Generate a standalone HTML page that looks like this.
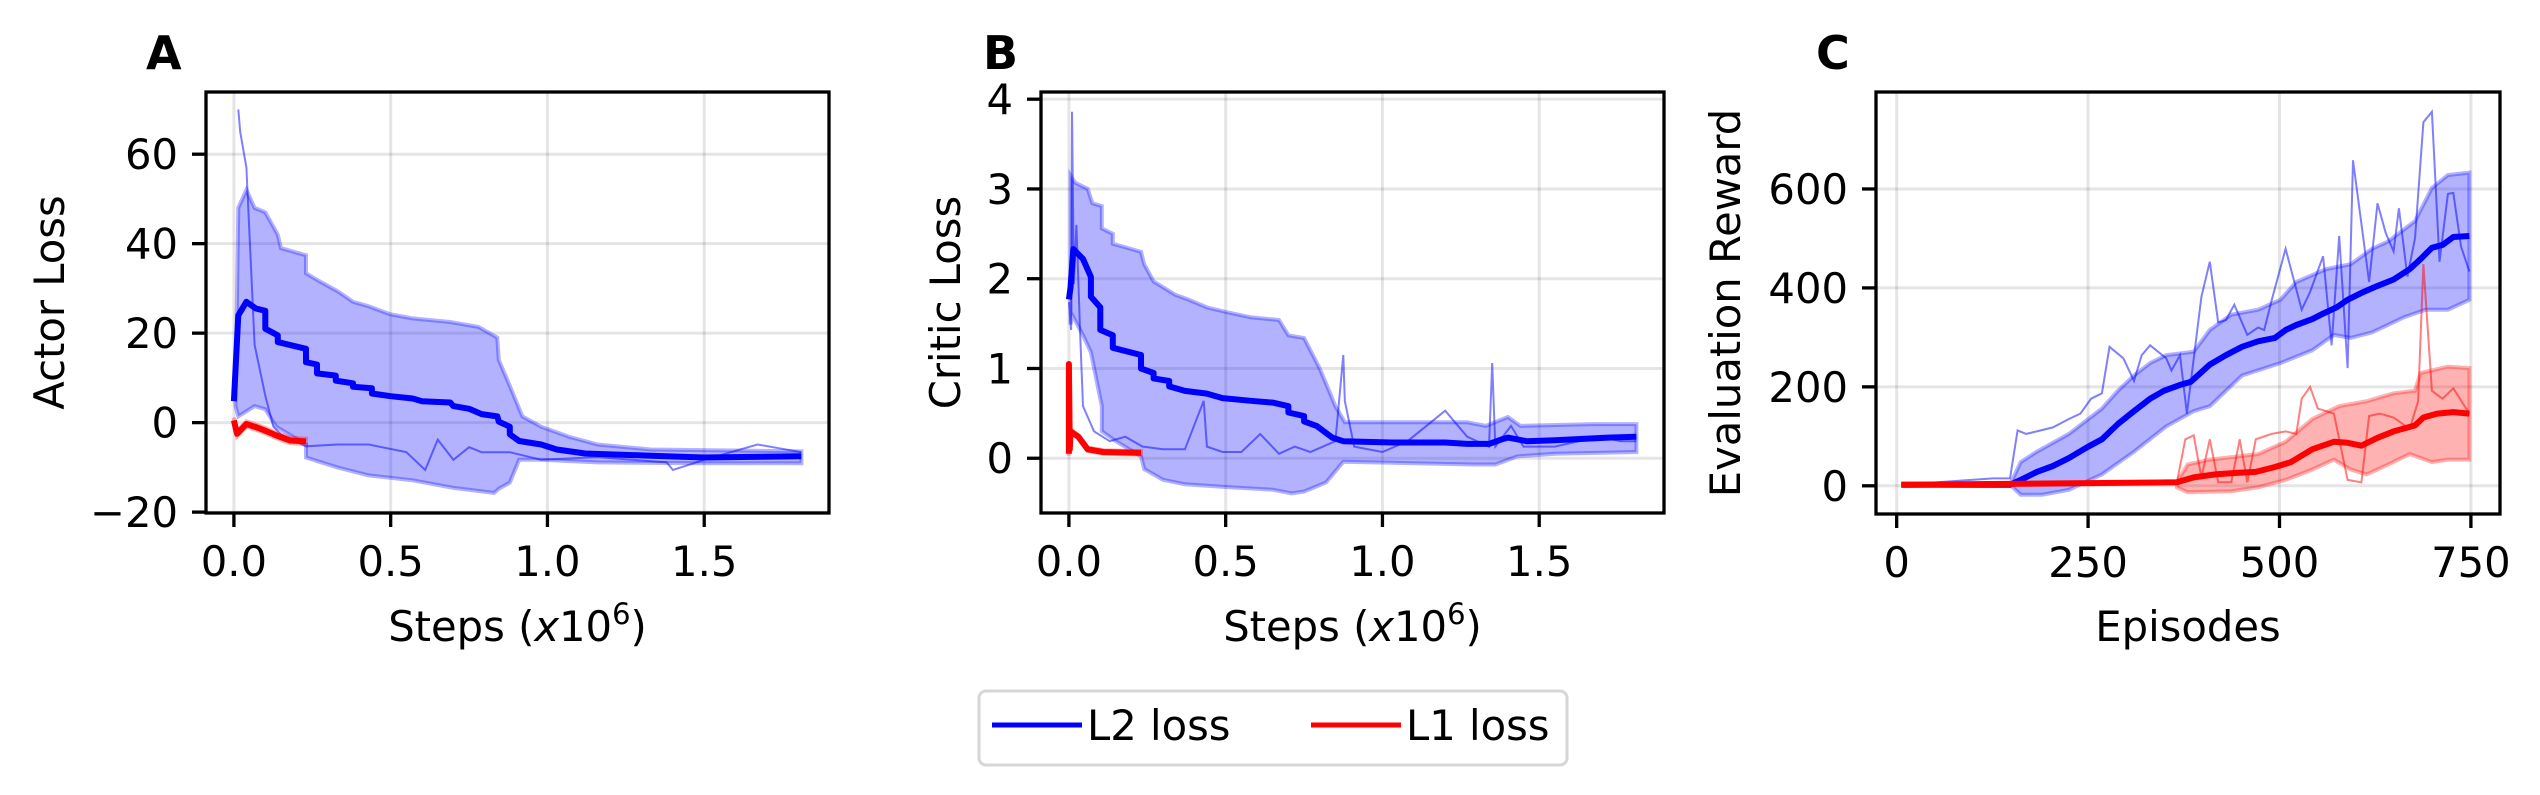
<!DOCTYPE html>
<html><head><meta charset="utf-8"><style>
html,body{margin:0;padding:0;background:#fff;}
svg{display:block;font-family:"DejaVu Sans","Liberation Sans",sans-serif;}
</style></head><body>
<svg id="fig" width="2540" height="795" viewBox="0 0 2540 795" xmlns="http://www.w3.org/2000/svg">
<rect width="2540" height="795" fill="#fff"/>
<g>
<rect x="979" y="691" width="588" height="74" rx="7" fill="#fff" stroke="#d6d6d6" stroke-width="3"/>
<line x1="992" y1="725" x2="1082" y2="725" stroke="#0000ff" stroke-width="5"/>
<text x="1087" y="740" font-size="41.7">L2 loss</text>
<line x1="1311" y1="725" x2="1401" y2="725" stroke="#ff0000" stroke-width="5"/>
<text x="1406" y="740" font-size="41.7">L1 loss</text>
</g>
</svg>
<script>
// ---- Panel A data (steps x1e6, actor loss)
const aMeanX=[0,0.014,0.04,0.07,0.1,0.1,0.14,0.14,0.2,0.23,0.23,0.265,0.265,0.325,0.325,0.38,0.38,0.44,0.44,0.5,0.57,0.6,0.69,0.7,0.75,0.79,0.84,0.845,0.88,0.88,0.91,0.98,1.03,1.12,1.33,1.5,1.81];
const aMeanY=[4.8,24,27,25.5,25,21,19.5,18,17,16.5,13.5,13,11,10.5,9.4,8.8,8,7.7,6.5,5.9,5.4,4.8,4.5,3.7,3.1,1.9,1.4,0.2,-0.9,-2.6,-4.1,-4.9,-6,-6.9,-7.4,-7.8,-7.5];
const aUpX=[0.005,0.014,0.04,0.066,0.1,0.14,0.15,0.23,0.23,0.27,0.33,0.38,0.43,0.5,0.57,0.69,0.78,0.84,0.845,0.88,0.92,0.98,1.07,1.16,1.33,1.81];
const aUpY=[5,48,52,48,47,42,39,37.4,33.4,31.7,29.4,27,26,24.2,23.3,22.5,21.4,19,14,8.2,1.4,-0.9,-3.2,-4.9,-6,-6.4];
const aLoX=[0.005,0.014,0.066,0.1,0.135,0.23,0.23,0.33,0.43,0.57,0.7,0.83,0.845,0.88,0.91,0.98,1.16,1.5,1.81];
const aLoY=[3.7,1.4,3.7,3,-0.9,-4.9,-7.8,-10,-11.8,-12.9,-14.6,-15.7,-14.8,-13.4,-8.3,-8.3,-8.9,-9.1,-9.1];
const aRunX=[0.014,0.02,0.04,0.066,0.066,0.1,0.126,0.15,0.23,0.33,0.43,0.55,0.61,0.65,0.7,0.75,0.79,0.88,0.98,1.16,1.38,1.4,1.5,1.67,1.81];
const aRunY=[70,65,57,17.4,17.4,6,-0.9,-2.6,-5.3,-4.9,-4.9,-6.6,-10.6,-3.8,-8.3,-5.5,-6.6,-6.6,-8.3,-7.7,-8.9,-10.6,-8.3,-4.9,-6.6];
const aL1X=[0,0.01,0.04,0.07,0.1,0.14,0.18,0.23];
const aL1Y=[0.5,-2.5,-0.3,-1,-1.8,-3,-4,-4.2];
// ---- Panel B data
const bMeanX=[0,0.005,0.014,0.045,0.07,0.07,0.1,0.1,0.14,0.14,0.23,0.23,0.27,0.27,0.32,0.32,0.37,0.44,0.49,0.58,0.65,0.7,0.7,0.75,0.75,0.79,0.84,0.875,1.03,1.2,1.27,1.34,1.38,1.4,1.46,1.55,1.72,1.81];
const bMeanY=[1.77,1.9,2.33,2.22,2.02,1.8,1.68,1.43,1.37,1.23,1.15,1.0,0.95,0.89,0.86,0.8,0.75,0.72,0.67,0.64,0.62,0.58,0.51,0.47,0.41,0.36,0.23,0.19,0.175,0.175,0.16,0.16,0.21,0.23,0.19,0.2,0.23,0.24];
const bUpX=[0.005,0.02,0.06,0.075,0.105,0.105,0.14,0.14,0.23,0.24,0.27,0.34,0.38,0.44,0.5,0.58,0.67,0.7,0.75,0.8,0.83,0.85,0.88,1.03,1.27,1.33,1.4,1.42,1.44,1.67,1.81];
const bUpY=[3.15,3.07,3.0,2.84,2.81,2.56,2.5,2.39,2.3,2.16,1.97,1.82,1.77,1.68,1.63,1.57,1.54,1.37,1.34,1.0,0.75,0.58,0.4,0.4,0.4,0.36,0.46,0.41,0.36,0.38,0.38];
const bLoX=[0.005,0.01,0.045,0.07,0.105,0.105,0.15,0.23,0.24,0.3,0.37,0.5,0.65,0.71,0.75,0.82,0.875,1.03,1.29,1.36,1.43,1.55,1.81];
const bLoY=[1.49,1.6,1.37,1.18,0.58,0.3,0.19,0.02,-0.12,-0.24,-0.29,-0.32,-0.35,-0.39,-0.37,-0.27,-0.04,-0.05,-0.07,-0.07,0.02,0.05,0.07];
const bRunX=[0,0.007,0.01,0.016,0.024,0.036,0.045,0.08,0.13,0.18,0.235,0.3,0.37,0.43,0.44,0.49,0.55,0.61,0.67,0.72,0.77,0.85,0.875,0.88,0.91,1.0,1.08,1.2,1.27,1.34,1.35,1.36,1.41,1.45,1.55,1.69,1.76,1.81];
const bRunY=[1.74,1.43,3.86,1.94,2.6,1.37,0.58,0.3,0.19,0.24,0.13,0.1,0.1,0.64,0.13,0.07,0.07,0.27,0.05,0.13,0.07,0.19,1.15,0.64,0.13,0.07,0.19,0.53,0.24,0.13,1.06,0.13,0.36,0.13,0.13,0.24,0.19,0.19];
const bL1X=[0,0,0.003,0.005,0.03,0.06,0.11,0.23];
const bL1Y=[0.05,1.05,0.1,0.3,0.24,0.1,0.07,0.06];
// ---- Panel C data (episodes, reward)
const cMeanX=[6,148,162,183,204,225,250,268,289,310,331,349,370,384,409,430,451,472,494,508,522,543,557,575,589,607,628,649,670,684,699,713,727,748];
const cMeanY=[2,2,12,28,40,56,79,94,125,151,176,192,204,210,245,264,281,292,299,315,325,337,348,361,376,390,404,417,438,458,481,487,503,505];
const cUpX=[148,162,183,225,268,289,310,331,352,388,409,437,472,501,522,561,593,621,642,677,699,720,748];
const cUpY=[2,48,69,105,156,192,223,248,264,271,315,346,356,376,412,438,448,479,494,535,602,628,633];
const cLoX=[148,162,190,225,268,310,352,388,409,451,501,543,571,593,621,663,691,720,748];
const cLoY=[2,-18,-18,-8,23,69,120,151,161,223,248,274,305,299,310,341,356,356,376];
const cRunX=[6,126,148,158,169,183,204,225,240,254,268,278,296,310,320,331,352,359,370,379,398,409,420,430,441,458,472,480,490,508,529,540,557,568,578,589,596,617,628,639,649,656,667,677,688,699,709,720,727,737,748];
const cRunY=[2,15,15,112,105,110,118,135,146,176,187,281,258,212,264,284,258,233,264,146,382,453,330,335,366,305,320,315,376,479,356,392,464,284,505,238,658,412,571,510,474,561,423,500,735,756,453,590,592,484,433];
const cL1MeanX=[6,366,388,416,444,469,494,515,543,571,589,607,628,649,677,688,706,727,748];
const cL1MeanY=[2,7,17,23,26,28,38,48,74,89,87,81,97,110,122,138,146,149,146];
const cL1UpX=[366,380,409,472,508,543,578,614,649,677,684,720,748];
const cL1UpY=[7,43,53,64,89,135,161,171,187,192,228,241,238];
const cL1LoX=[366,380,437,472,508,543,571,593,614,642,670,699,720,748];
const cL1LoY=[-3,-13,-11,-3,12,33,53,33,23,43,64,48,53,53];
const cL1RunX=[366,377,388,398,409,420,437,448,458,469,490,508,522,529,540,550,571,589,607,617,631,649,670,681,688,699,713,727,748];
const cL1RunY=[7,94,102,17,94,7,7,94,7,94,105,110,105,176,200,156,146,12,7,141,146,138,115,171,448,192,176,197,146];
// ---- ticks
const aXTicks=[0,0.5,1,1.5], aXLabels=["0.0","0.5","1.0","1.5"];
const aYTicks=[-20,0,20,40,60], aYLabels=["\u221220","0","20","40","60"];
const bXTicks=[0,0.5,1,1.5], bXLabels=["0.0","0.5","1.0","1.5"];
const bYTicks=[0,1,2,3,4], bYLabels=["0","1","2","3","4"];
const cXTicks=[0,250,500,750], cXLabels=["0","250","500","750"];
const cYTicks=[0,200,400,600], cYLabels=["0","200","400","600"];

const NS="http://www.w3.org/2000/svg";
const svg=document.getElementById('fig');
function mk(tag,attrs,parent){const e=document.createElementNS(NS,tag);for(const k in attrs)e.setAttribute(k,attrs[k]);(parent||svg).appendChild(e);return e;}

function panel(o){
  const g=mk('g',{});
  
  
  const L=o.box[0],R=o.box[1],T=o.box[2],B=o.box[3];
  const sx=v=>L+(v-o.xlim[0])/(o.xlim[1]-o.xlim[0])*(R-L);
  const sy=v=>B-(v-o.ylim[0])/(o.ylim[1]-o.ylim[0])*(B-T);
  const clipId='clip'+o.letter;
  const cp=mk('clipPath',{id:clipId},g);mk('rect',{x:L,y:T,width:R-L,height:B-T},cp);
  // grid
  o.xt.forEach(v=>{const l=mk('line',{x1:sx(v),x2:sx(v),y1:T,y2:B,stroke:'#000','stroke-opacity':0.1,'stroke-width':3},g);
    
    });
  o.yt.forEach(v=>{const l=mk('line',{x1:L,x2:R,y1:sy(v),y2:sy(v),stroke:'#000','stroke-opacity':0.1,'stroke-width':3},g);
    
    });
  const pl=mk('g',{'clip-path':'url(#'+clipId+')'},g);
  const pts=(X,Y)=>X.map((x,i)=>sx(x).toFixed(1)+','+sy(Y[i]).toFixed(1)).join(' ');
  o.series.forEach(s=>{
    const band=mk('polygon',{points:pts(s.upX,s.upY)+' '+pts(s.loX.slice().reverse(),s.loY.slice().reverse()),fill:s.c,'fill-opacity':0.3,stroke:s.c,'stroke-opacity':0.3,'stroke-width':4},pl);
    
    
    if(s.runX){const r=mk('polyline',{points:pts(s.runX,s.runY),fill:'none',stroke:s.c,'stroke-opacity':0.5,'stroke-width':2},pl);
      
      }
  });
  o.series.forEach(s=>{
    const m=mk('polyline',{points:pts(s.mX,s.mY),fill:'none',stroke:s.c,'stroke-width':6,'stroke-linejoin':'round'},pl);
    
    
  });
  mk('rect',{x:L,y:T,width:R-L,height:B-T,fill:'none',stroke:'#000','stroke-width':3.3},g);
  o.xt.forEach((v,i)=>{mk('line',{x1:sx(v),x2:sx(v),y1:B,y2:B+14,stroke:'#000','stroke-width':3.3},g);
    const t=mk('text',{x:sx(v),y:B+63,'font-size':41.7,'text-anchor':'middle'},g);t.textContent=o.xl[i];
    
    });
  o.yt.forEach((v,i)=>{mk('line',{x1:L-14,x2:L,y1:sy(v),y2:sy(v),stroke:'#000','stroke-width':3.3},g);
    const t=mk('text',{x:L-28,y:sy(v)+15,'font-size':41.7,'text-anchor':'end'},g);t.textContent=o.yl[i];
    
    });
  const xt=mk('text',{x:(L+R)/2,y:641,'font-size':41.7,'text-anchor':'middle'},g);
  
  
  if(o.xtitle==='steps'){xt.innerHTML='Steps (<tspan font-style="italic">x</tspan>10<tspan font-size="29" dy="-17">6</tspan><tspan dy="17">)</tspan>';}
  else xt.textContent=o.xtitle;
  const yt=mk('text',{x:0,y:0,'font-size':41.7,'text-anchor':'middle',transform:'translate('+(o.ylx+15)+','+((T+B)/2)+') rotate(-90)'},g);
  yt.textContent=o.ytitle;
  
  
  const pt=mk('text',{x:o.lx,y:69,'font-size':46,'font-weight':'bold'},g);pt.textContent=o.letter;
  
  
}
panel({name:'panel-a-actor-loss',letter:'A',lx:146,box:[206,829,92,513],xlim:[-0.089,1.898],ylim:[-20.2,73.9],
  xt:aXTicks,xl:aXLabels,yt:aYTicks,yl:aYLabels,xtitle:'steps',ytitle:'Actor Loss',ylx:49,
  series:[{id:'l2',c:'#0000ff',mX:aMeanX,mY:aMeanY,upX:aUpX,upY:aUpY,loX:aLoX,loY:aLoY,runX:aRunX,runY:aRunY},
          {id:'l1',c:'#ff0000',mX:aL1X,mY:aL1Y,upX:aL1X,upY:aL1Y.map(v=>v+0.6),loX:aL1X,loY:aL1Y.map(v=>v-0.6)}]});
panel({name:'panel-b-critic-loss',letter:'B',lx:983,box:[1041,1664,92,513],xlim:[-0.089,1.898],ylim:[-0.61,4.08],
  xt:bXTicks,xl:bXLabels,yt:bYTicks,yl:bYLabels,xtitle:'steps',ytitle:'Critic Loss',ylx:945,
  series:[{id:'l2',c:'#0000ff',mX:bMeanX,mY:bMeanY,upX:bUpX,upY:bUpY,loX:bLoX,loY:bLoY,runX:bRunX,runY:bRunY},
          {id:'l1',c:'#ff0000',mX:bL1X,mY:bL1Y,upX:bL1X,upY:bL1Y.map(v=>v+0.02),loX:bL1X,loY:bL1Y.map(v=>v-0.02)}]});
panel({name:'panel-c-evaluation-reward',letter:'C',lx:1816,box:[1876,2500,92,514],xlim:[-27,788],ylim:[-57,796],
  xt:cXTicks,xl:cXLabels,yt:cYTicks,yl:cYLabels,xtitle:'Episodes',ytitle:'Evaluation Reward',ylx:1725,
  series:[{id:'l2',c:'#0000ff',mX:cMeanX,mY:cMeanY,upX:cUpX,upY:cUpY,loX:cLoX,loY:cLoY,runX:cRunX,runY:cRunY},
          {id:'l1',c:'#ff0000',mX:cL1MeanX,mY:cL1MeanY,upX:cL1UpX,upY:cL1UpY,loX:cL1LoX,loY:cL1LoY,runX:cL1RunX,runY:cL1RunY}]});
</script>
</body></html>
